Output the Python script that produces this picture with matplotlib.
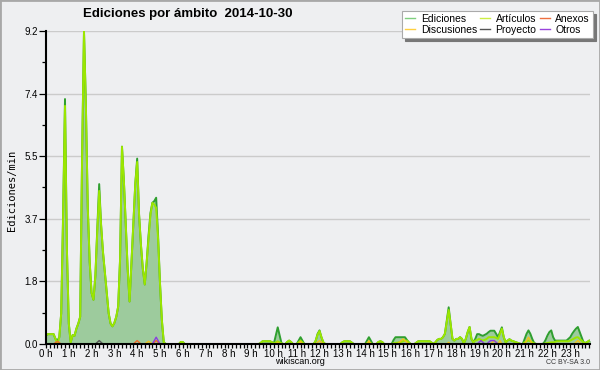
import numpy as np
import matplotlib
matplotlib.use("Agg")
import matplotlib.pyplot as plt
from matplotlib.lines import Line2D
from matplotlib.patches import Rectangle

# ediciones por minuto, one value every 5 minutes, one row per hour
ediciones = [
    0.25, 0.29, 0.29, 0.29, 0.29, 0.15, 0.1, 0.2, 0.9, 3.8, 7.2, 2.8,      # 0 h
    0.6, 0.05, 0.26, 0.24, 0.45, 0.6, 0.8, 5.5, 9.2, 7.0, 4.0, 2.4,       # 1 h
    1.5, 1.3, 2.0, 3.4, 4.7, 3.5, 2.7, 2.1, 1.5, 0.9, 0.6, 0.52,          # 2 h
    0.62, 0.8, 1.1, 2.5, 5.8, 4.8, 3.5, 2.2, 1.25, 2.4, 3.6, 4.7,         # 3 h
    5.45, 3.8, 2.9, 2.2, 1.75, 2.4, 3.2, 3.85, 4.15, 4.2, 4.3, 3.2,       # 4 h
    1.8, 0.7, 0.05, 0, 0, 0, 0, 0, 0, 0, 0, 0.06,                         # 5 h
    0.06, 0, 0, 0, 0, 0, 0, 0, 0, 0, 0, 0,                                # 6 h
    0, 0, 0, 0, 0, 0, 0, 0, 0, 0, 0, 0,                                   # 7 h
    0, 0, 0, 0, 0, 0, 0, 0, 0, 0, 0, 0,                                   # 8 h
    0, 0, 0, 0, 0, 0.03, 0.08, 0.08, 0.08, 0.08, 0.08, 0.05,              # 9 h
    0.02, 0.25, 0.49, 0.25, 0.02, 0, 0, 0.06, 0.1, 0.06, 0, 0,            # 10 h
    0, 0.1, 0.2, 0.1, 0, 0, 0, 0, 0, 0, 0.1, 0.3,                         # 11 h
    0.4, 0.2, 0.05, 0, 0, 0, 0, 0, 0, 0, 0, 0,                            # 12 h
    0.05, 0.08, 0.08, 0.08, 0.08, 0.04, 0, 0, 0, 0, 0, 0,                 # 13 h
    0, 0.1, 0.2, 0.1, 0, 0, 0, 0.06, 0.08, 0.06, 0, 0,                    # 14 h
    0, 0, 0, 0.12, 0.2, 0.2, 0.2, 0.2, 0.2, 0.2, 0.12, 0.05,              # 15 h
    0, 0, 0, 0.04, 0.08, 0.08, 0.08, 0.08, 0.08, 0.08, 0.08, 0.04,        # 16 h
    0, 0.05, 0.12, 0.15, 0.15, 0.2, 0.3, 0.7, 1.08, 0.6, 0.15, 0.1,       # 17 h
    0.15, 0.15, 0.2, 0.15, 0.02, 0.15, 0.35, 0.5, 0.15, 0.05, 0.15, 0.29, # 18 h
    0.29, 0.26, 0.24, 0.27, 0.3, 0.35, 0.39, 0.39, 0.39, 0.3, 0.2, 0.35,  # 19 h
    0.49, 0.2, 0.05, 0.1, 0.14, 0.1, 0.08, 0.06, 0.04, 0.02, 0, 0,        # 20 h
    0.15, 0.3, 0.4, 0.3, 0.15, 0.03, 0, 0, 0, 0, 0.02, 0.12,              # 21 h
    0.25, 0.35, 0.4, 0.2, 0.1, 0.1, 0.1, 0.1, 0.1, 0.1, 0.1, 0.15,        # 22 h
    0.2, 0.3, 0.38, 0.45, 0.5, 0.35, 0.2, 0.05, 0.03, 0.06, 0.1, 0.1,     # 23 h
]
articulos = [
    0.25, 0.29, 0.29, 0.29, 0.29, 0.15, 0, 0.2, 0.9, 3.7, 7.0, 2.8,
    0.6, 0.05, 0.26, 0.24, 0.45, 0.6, 0.8, 5.5, 9.2, 7.0, 4.0, 2.4,
    1.5, 1.3, 2.0, 3.3, 4.5, 3.5, 2.7, 2.1, 1.5, 0.9, 0.6, 0.52,
    0.62, 0.8, 1.1, 2.5, 5.8, 4.8, 3.5, 2.2, 1.25, 2.4, 3.6, 4.7,
    5.35, 3.8, 2.9, 2.2, 1.75, 2.4, 3.1, 3.8, 4.15, 4.1, 4.0, 3.1,
    1.8, 0.7, 0.05, 0, 0, 0, 0, 0, 0, 0, 0, 0.06,
    0.06, 0, 0, 0, 0, 0, 0, 0, 0, 0, 0, 0,
    0, 0, 0, 0, 0, 0, 0, 0, 0, 0, 0, 0,
    0, 0, 0, 0, 0, 0, 0, 0, 0, 0, 0, 0,
    0, 0, 0, 0, 0, 0.03, 0.08, 0.08, 0.08, 0.08, 0.08, 0.05,
    0.02, 0.05, 0.08, 0.05, 0.02, 0, 0, 0.06, 0.1, 0.06, 0, 0,
    0, 0.05, 0.1, 0.05, 0, 0, 0, 0, 0, 0, 0.1, 0.28,
    0.38, 0.2, 0.05, 0, 0, 0, 0, 0, 0, 0, 0, 0,
    0.05, 0.08, 0.08, 0.08, 0.08, 0.04, 0, 0, 0, 0, 0, 0,
    0, 0.02, 0.05, 0.02, 0, 0, 0, 0.06, 0.08, 0.06, 0, 0,
    0, 0, 0, 0.02, 0.03, 0.04, 0.05, 0.06, 0.08, 0.1, 0.1, 0.05,
    0, 0, 0, 0.04, 0.08, 0.08, 0.08, 0.08, 0.08, 0.08, 0.08, 0.04,
    0, 0.05, 0.12, 0.15, 0.15, 0.2, 0.3, 0.65, 1.0, 0.6, 0.15, 0.1,
    0.15, 0.15, 0.2, 0.15, 0.02, 0.15, 0.35, 0.5, 0.15, 0.05, 0.1, 0.12,
    0.15, 0.12, 0.1, 0.12, 0.15, 0.2, 0.2, 0.2, 0.2, 0.18, 0.15, 0.3,
    0.45, 0.2, 0.05, 0.1, 0.14, 0.1, 0.08, 0.06, 0.04, 0.02, 0, 0,
    0.05, 0.08, 0.1, 0.08, 0.05, 0.02, 0, 0, 0, 0, 0, 0.02,
    0.03, 0.04, 0.05, 0.05, 0.06, 0.08, 0.08, 0.08, 0.08, 0.08, 0.08, 0.08,
    0.1, 0.13, 0.16, 0.19, 0.2, 0.15, 0.1, 0.05, 0.03, 0.06, 0.1, 0.1,
]
# the small series, as (5-min slot, value) pairs; every other slot is zero
anexos_slot = [5, 6, 7, 47, 48, 49, 57, 58, 59]
anexos_val = [0.04, 0.08, 0.04, 0.05, 0.1, 0.05, 0.05, 0.1, 0.05]
discusiones_slot = [53, 54, 55, 122, 134, 143, 144, 145, 170, 186, 187, 188, 189,
                    190, 212, 235, 236, 237, 239, 253, 254, 255, 279, 280, 281]
discusiones_val = [0.04, 0.08, 0.04, 0.05, 0.08, 0.05, 0.1, 0.05, 0.1, 0.05, 0.1, 0.15,
                   0.1, 0.05, 0.05, 0.05, 0.1, 0.05, 0.1, 0.1, 0.2, 0.1, 0.05, 0.1, 0.05]
proyecto_slot = [27, 28, 29]
proyecto_val = [0.05, 0.1, 0.05]
otros_slot = [57, 58, 59, 228, 229, 230, 233, 234, 235, 236, 237]
otros_val = [0.1, 0.2, 0.1, 0.05, 0.1, 0.05, 0.05, 0.1, 0.1, 0.1, 0.05]

hour_labels = [f"{h} h" for h in range(24)]
ytick_vals = [0, 1.84, 3.68, 5.52, 7.36, 9.2]
ytick_labels = ["0.0", "1.8", "3.7", "5.5", "7.4", "9.2"]

BG = "#eeeff1"
SANS = ["Liberation Sans", "DejaVu Sans"]


def sparse(slots, vals, n=288):
    out = np.zeros(n)
    out[slots] = vals
    return out


x = np.arange(len(ediciones))
anexos = sparse(anexos_slot, anexos_val)
discusiones = sparse(discusiones_slot, discusiones_val)
proyecto = sparse(proyecto_slot, proyecto_val)
otros = sparse(otros_slot, otros_val)

plt.rcParams["font.family"] = SANS

fig = plt.figure(figsize=(6, 3.7), dpi=100, facecolor=BG)
ax = fig.add_axes([46/600, 26/370, 544/600, 313/370], facecolor=BG)

ax.fill_between(x, ediciones, 0, color="#9dcb9d", lw=0, zorder=1)
ax.plot(x, ediciones, color="#2f9f2f", lw=1.4, zorder=3)
ax.plot(x, articulos, color="#9be600", lw=1.4, zorder=4)
ax.plot(x, discusiones, color="#f2c21a", lw=1.0, zorder=5)
ax.plot(x, proyecto, color="#555555", lw=1.0, zorder=5)
ax.plot(x, anexos, color="#ee6a2a", lw=1.0, zorder=5)
ax.plot(x, otros, color="#8a3ee0", lw=1.0, zorder=6)

ax.set_xlim(0, 286.4)
ax.set_ylim(0, 9.2)
ax.set_xticks(np.arange(0, 288, 12))
ax.set_xticklabels(hour_labels, fontsize=7)
ax.set_xticks(np.arange(0, 288, 2), minor=True)
ax.set_yticks(ytick_vals)
ax.set_yticklabels(ytick_labels, fontsize=7)
ax.set_yticks(np.arange(0.92, 9.2, 1.84), minor=True)
ax.tick_params(axis="x", which="both", direction="out", length=3, width=0.9, pad=0.5)
ax.tick_params(axis="y", which="major", direction="out", length=5, width=0.9, pad=1)
ax.tick_params(axis="y", which="minor", direction="out", length=3, width=0.9)
ax.grid(axis="y", which="major", color="#cbcbcb", lw=1, zorder=0)
ax.set_axisbelow(True)
for s in ["top", "right"]:
    ax.spines[s].set_visible(False)
for s in ["left", "bottom"]:
    ax.spines[s].set_linewidth(1.5)
    ax.spines[s].set_zorder(10)

fig.text(188/600, 1 - 14/370, "Ediciones por ámbito  2014-10-30",
         ha="center", va="center", fontsize=9.5, fontweight="bold")
fig.text(12/600, 1 - 190/370, "Ediciones/min", rotation=90, ha="center",
         va="center", fontsize=7.5, family="DejaVu Sans Mono")
fig.text(300/600, 1 - 362/370, "wikiscan.org", ha="center", va="center", fontsize=6.5)
fig.text(590/600, 1 - 362/370, "CC BY-SA 3.0", ha="right", va="center",
         fontsize=5, color="#333333")

handles = [
    Line2D([], [], color="#7fcf7f", lw=1), Line2D([], [], color="#ffd040", lw=1),
    Line2D([], [], color="#ccee44", lw=1), Line2D([], [], color="#555555", lw=1),
    Line2D([], [], color="#ee7040", lw=1), Line2D([], [], color="#9944dd", lw=1),
]
labels = ["Ediciones", "Discusiones", "Artículos", "Proyecto", "Anexos", "Otros"]
leg = fig.legend(handles, labels, ncol=3, fontsize=7.5, loc="upper right",
                 bbox_to_anchor=(593/600, 1 - 11/370), borderaxespad=0,
                 frameon=True, fancybox=False, handlelength=1.0,
                 handletextpad=0.5, columnspacing=0.3, labelspacing=0.05,
                 borderpad=0.3, shadow={"color": "#777777", "alpha": 1.0})
leg.get_frame().set_edgecolor("#aaaaaa")
leg.get_frame().set_linewidth(0.8)

fig.patches.append(Rectangle((0, 0), 1, 1, transform=fig.transFigure,
                             fill=False, edgecolor="#a8a8a8", lw=2))

fig.savefig("out.png", dpi=100, facecolor=BG)
